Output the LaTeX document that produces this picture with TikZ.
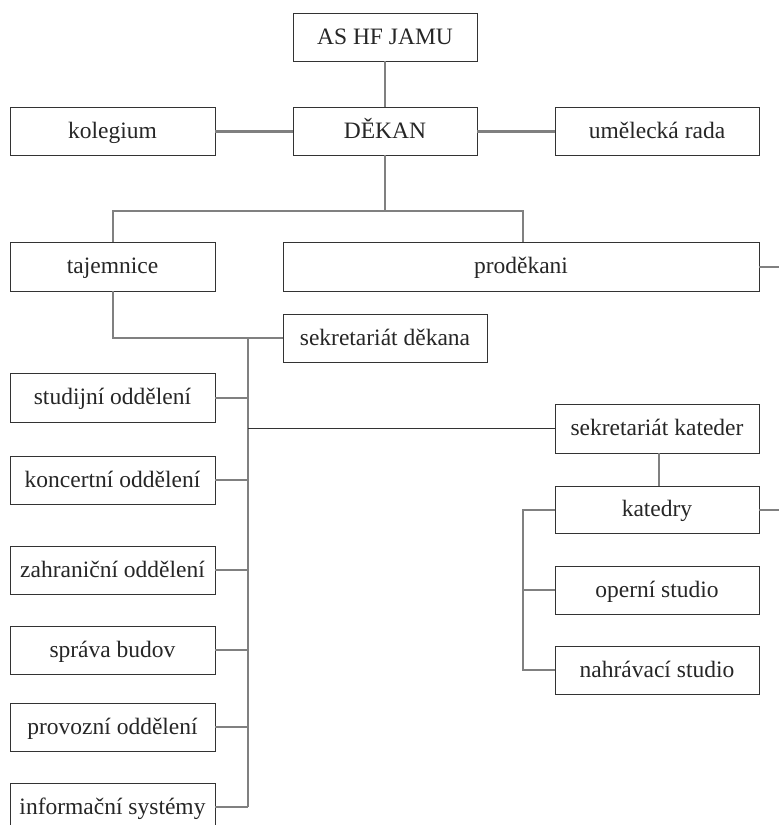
\documentclass[tikz,border=0pt]{standalone}
\usepackage{fontspec}
\setmainfont{Liberation Serif}
\begin{document}
\begin{tikzpicture}[x=1pt,y=-1pt,
  box/.style={draw=black!80,line width=0.9pt,fill=white,minimum width=204pt,minimum height=48pt,inner sep=0pt,text height=17pt,text depth=3pt,font=\fontsize{23.5}{26}\selectfont,text=black!85},
  conn/.style={draw=black!50,line width=2pt},
  thick conn/.style={draw=black!50,line width=3pt},
  thin conn/.style={draw=black!80,line width=1pt}]
\useasboundingbox (0,0) rectangle (779,825);
% nodes
\node[box,minimum width=184pt] (as) at (385,37) {AS HF JAMU};
\node[box,minimum width=184pt] (dekan) at (385,131) {DĚKAN};
\node[box,minimum width=205pt] (kol) at (112.5,131) {kolegium};
\node[box] (umel) at (657,131) {umělecká rada};
\node[box,minimum width=205pt,minimum height=49pt] (taj) at (112.5,266.5) {tajemnice};
\node[box,minimum width=476pt,minimum height=49pt] (prod) at (521,266.5) {proděkani};
\node[box] (sekd) at (385,338) {sekretariát děkana};
\node[box,minimum width=205pt,minimum height=49pt] (stud) at (112.5,397.5) {studijní oddělení};
\node[box,minimum width=205pt] (konc) at (112.5,480) {koncertní oddělení};
\node[box,minimum width=205pt] (zahr) at (112.5,570) {zahraniční oddělení};
\node[box,minimum width=205pt] (sprava) at (112.5,650) {správa budov};
\node[box,minimum width=205pt] (provoz) at (112.5,727) {provozní oddělení};
\node[box,minimum width=205pt] (info) at (112.5,807) {informační systémy};
\node[box,minimum height=49pt] (sekk) at (657,428.5) {sekretariát kateder};
\node[box,minimum height=47pt] (kat) at (657,509.5) {katedry};
\node[box] (opera) at (657,590) {operní studio};
\node[box] (nahr) at (657,670) {nahrávací studio};
% coordinates
\coordinate (j1) at (385,211);
\coordinate (pj) at (523,211);
\coordinate (pe) at (779,266.5);
\coordinate (btop) at (248,338);
\coordinate (bbot) at (248,807);
\coordinate (bmid) at (248,428.5);
\coordinate (ke) at (779,509.5);
\coordinate (kb) at (523,509.5);
\coordinate (kbb) at (523,670);
% connectors
\draw[conn] (as.south) -- (dekan.north);
\draw[thick conn] (kol.east) -- (dekan.west);
\draw[thick conn] (dekan.east) -- (umel.west);
\draw[conn] (dekan.south) -- (j1);
\draw[conn] (taj.north) |- (pj) -- (pj |- prod.north);
\draw[conn] (prod.east) -- (pe);
\draw[conn] (taj.south) |- (sekd.west);
\draw[conn] (btop) -- (bbot);
\draw[conn] (stud.east) -- (stud.east -| btop);
\draw[conn] (konc.east) -- (konc.east -| btop);
\draw[conn] (zahr.east) -- (zahr.east -| btop);
\draw[conn] (sprava.east) -- (sprava.east -| btop);
\draw[conn] (provoz.east) -- (provoz.east -| btop);
\draw[conn] (info.east) -- (bbot);
\draw[thin conn] (bmid) -- (sekk.west);
\draw[conn] ([xshift=2pt]sekk.south) -- ([xshift=2pt]kat.north);
\draw[conn] (kat.east) -- (ke);
\draw[conn] (kat.west) -- (kb) -- (kbb) -- (nahr.west);
\draw[conn] (opera.west) -- (opera.west -| kb);
\end{tikzpicture}
\end{document}
